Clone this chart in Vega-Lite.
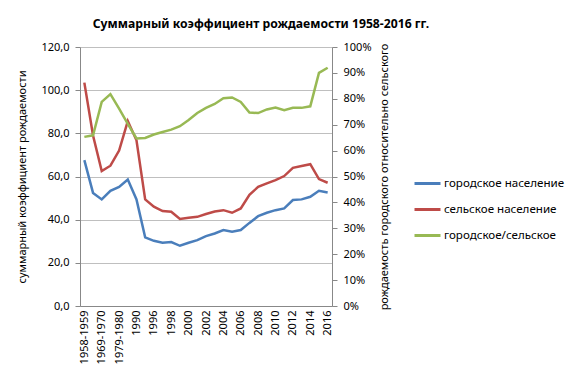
{
  "$schema": "https://vega.github.io/schema/vega-lite/v6.json",
  "width": 252,
  "height": 259,
  "autosize": "none",
  "padding": {"left": 80, "top": 47, "right": 248, "bottom": 76},
  "background": "white",
  "title": {
    "text": "Суммарный коэффициент рождаемости 1958-2016 гг.",
    "anchor": "middle",
    "frame": "group",
    "dx": 55,
    "offset": 11,
    "font": "Noto Sans",
    "fontSize": 12.2,
    "fontWeight": "bold",
    "color": "#000000"
  },
  "config": {
    "view": {"stroke": null},
    "font": "Noto Sans",
    "axis": {"labelFont": "Noto Sans", "titleFont": "Noto Sans", "labelColor": "#000000", "titleColor": "#000000", "domainColor": "#888888", "tickColor": "#888888"}
  },
  "data": {
    "values": [
      {"period": "1958-1959", "series": "городское население", "value": 67.6},
      {"period": "1964-1965", "series": "городское население", "value": 52.4},
      {"period": "1969-1970", "series": "городское население", "value": 49.4},
      {"period": "1974-1975", "series": "городское население", "value": 53.4},
      {"period": "1979-1980", "series": "городское население", "value": 55.2},
      {"period": "1986-1987", "series": "городское население", "value": 58.6},
      {"period": "1990", "series": "городское население", "value": 49.4},
      {"period": "1995", "series": "городское население", "value": 31.8},
      {"period": "1996", "series": "городское население", "value": 30.2},
      {"period": "1997", "series": "городское население", "value": 29.3},
      {"period": "1998", "series": "городское население", "value": 29.6},
      {"period": "1999", "series": "городское население", "value": 27.9},
      {"period": "2000", "series": "городское население", "value": 29.3},
      {"period": "2001", "series": "городское население", "value": 30.5},
      {"period": "2002", "series": "городское население", "value": 32.4},
      {"period": "2003", "series": "городское население", "value": 33.6},
      {"period": "2004", "series": "городское население", "value": 35.2},
      {"period": "2005", "series": "городское население", "value": 34.4},
      {"period": "2006", "series": "городское население", "value": 35.2},
      {"period": "2007", "series": "городское население", "value": 38.5},
      {"period": "2008", "series": "городское население", "value": 41.6},
      {"period": "2009", "series": "городское население", "value": 43.2},
      {"period": "2010", "series": "городское население", "value": 44.4},
      {"period": "2011", "series": "городское население", "value": 45.2},
      {"period": "2012", "series": "городское население", "value": 49.1},
      {"period": "2013", "series": "городское население", "value": 49.4},
      {"period": "2014", "series": "городское население", "value": 50.6},
      {"period": "2015", "series": "городское население", "value": 53.4},
      {"period": "2016", "series": "городское население", "value": 52.6},
      {"period": "1958-1959", "series": "сельское население", "value": 103.5},
      {"period": "1964-1965", "series": "сельское население", "value": 79.0},
      {"period": "1969-1970", "series": "сельское население", "value": 62.5},
      {"period": "1974-1975", "series": "сельское население", "value": 65.0},
      {"period": "1979-1980", "series": "сельское население", "value": 72.0},
      {"period": "1986-1987", "series": "сельское население", "value": 85.7},
      {"period": "1990", "series": "сельское население", "value": 76.8},
      {"period": "1995", "series": "сельское население", "value": 49.4},
      {"period": "1996", "series": "сельское население", "value": 46.0},
      {"period": "1997", "series": "сельское население", "value": 44.0},
      {"period": "1998", "series": "сельское население", "value": 43.7},
      {"period": "1999", "series": "сельское население", "value": 40.3},
      {"period": "2000", "series": "сельское население", "value": 40.9},
      {"period": "2001", "series": "сельское население", "value": 41.3},
      {"period": "2002", "series": "сельское население", "value": 42.6},
      {"period": "2003", "series": "сельское население", "value": 43.8},
      {"period": "2004", "series": "сельское население", "value": 44.4},
      {"period": "2005", "series": "сельское население", "value": 43.2},
      {"period": "2006", "series": "сельское население", "value": 45.2},
      {"period": "2007", "series": "сельское население", "value": 51.5},
      {"period": "2008", "series": "сельское население", "value": 55.2},
      {"period": "2009", "series": "сельское население", "value": 56.8},
      {"period": "2010", "series": "сельское население", "value": 58.3},
      {"period": "2011", "series": "сельское население", "value": 60.2},
      {"period": "2012", "series": "сельское население", "value": 64.0},
      {"period": "2013", "series": "сельское население", "value": 64.9},
      {"period": "2014", "series": "сельское население", "value": 65.7},
      {"period": "2015", "series": "сельское население", "value": 58.8},
      {"period": "2016", "series": "сельское население", "value": 57.1},
      {"period": "1958-1959", "series": "городское/сельское", "value": 0.653},
      {"period": "1964-1965", "series": "городское/сельское", "value": 0.659},
      {"period": "1969-1970", "series": "городское/сельское", "value": 0.788},
      {"period": "1974-1975", "series": "городское/сельское", "value": 0.818},
      {"period": "1979-1980", "series": "городское/сельское", "value": 0.762},
      {"period": "1986-1987", "series": "городское/сельское", "value": 0.703},
      {"period": "1990", "series": "городское/сельское", "value": 0.647},
      {"period": "1995", "series": "городское/сельское", "value": 0.649},
      {"period": "1996", "series": "городское/сельское", "value": 0.662},
      {"period": "1997", "series": "городское/сельское", "value": 0.672},
      {"period": "1998", "series": "городское/сельское", "value": 0.681},
      {"period": "1999", "series": "городское/сельское", "value": 0.694},
      {"period": "2000", "series": "городское/сельское", "value": 0.718},
      {"period": "2001", "series": "городское/сельское", "value": 0.745},
      {"period": "2002", "series": "городское/сельское", "value": 0.765},
      {"period": "2003", "series": "городское/сельское", "value": 0.780},
      {"period": "2004", "series": "городское/сельское", "value": 0.802},
      {"period": "2005", "series": "городское/сельское", "value": 0.805},
      {"period": "2006", "series": "городское/сельское", "value": 0.788},
      {"period": "2007", "series": "городское/сельское", "value": 0.747},
      {"period": "2008", "series": "городское/сельское", "value": 0.745},
      {"period": "2009", "series": "городское/сельское", "value": 0.759},
      {"period": "2010", "series": "городское/сельское", "value": 0.766},
      {"period": "2011", "series": "городское/сельское", "value": 0.756},
      {"period": "2012", "series": "городское/сельское", "value": 0.765},
      {"period": "2013", "series": "городское/сельское", "value": 0.765},
      {"period": "2014", "series": "городское/сельское", "value": 0.771},
      {"period": "2015", "series": "городское/сельское", "value": 0.900},
      {"period": "2016", "series": "городское/сельское", "value": 0.920}
    ]
  },
  "encoding": {
    "x": {
      "field": "period",
      "type": "ordinal",
      "sort": null,
      "scale": {"type": "point", "padding": 0.5},
      "axis": {
        "title": null,
        "values": ["1958-1959", "1969-1970", "1979-1980", "1990", "1996", "1998", "2000", "2002", "2004", "2006", "2008", "2010", "2012", "2014", "2016"],
        "labelAngle": -90,
        "labelFontSize": 11,
        "labelPadding": 4,
        "ticks": false,
        "grid": false,
        "labelOverlap": false
      }
    },
    "color": {
      "field": "series",
      "type": "nominal",
      "scale": {
        "domain": ["городское население", "сельское население", "городское/сельское"],
        "range": ["#4A7EBB", "#BE4B48", "#98B954"]
      },
      "legend": {
        "title": null,
        "orient": "none",
        "legendX": 333,
        "legendY": 122,
        "symbolType": "stroke",
        "symbolSize": 676,
        "symbolStrokeWidth": 3,
        "labelFont": "Noto Sans",
        "labelFontSize": 11.6,
        "labelOffset": 2,
        "labelColor": "#000000",
        "rowPadding": 5
      }
    }
  },
  "layer": [
    {
      "transform": [{"filter": "datum.series !== 'городское/сельское'"}],
      "mark": {"type": "line", "strokeWidth": 2.5},
      "encoding": {
        "y": {
          "field": "value",
          "type": "quantitative",
          "scale": {"domain": [0, 120], "nice": false},
          "axis": {
            "title": "суммарный коэффициент рождаемости",
            "titleFontSize": 11,
            "titleFontWeight": "normal",
            "titlePadding": 13,
            "values": [0, 20, 40, 60, 80, 100, 120],
            "labelExpr": "replace(format(datum.value, '.1f'), '.', ',')",
            "labelFontSize": 11,
            "tickSize": 5,
            "labelPadding": 6,
            "grid": true,
            "gridColor": "#BFBFBF"
          }
        }
      }
    },
    {
      "transform": [{"filter": "datum.series === 'городское/сельское'"}],
      "mark": {"type": "line", "strokeWidth": 2.5},
      "encoding": {
        "y": {
          "field": "value",
          "type": "quantitative",
          "scale": {"domain": [0, 1], "nice": false},
          "axis": {
            "orient": "right",
            "title": "рождаемость городского относительно сельского",
            "titleAngle": 270,
            "titleFontSize": 11,
            "titleFontWeight": "normal",
            "titlePadding": 18,
            "values": [0, 0.1, 0.2, 0.3, 0.4, 0.5, 0.6, 0.7, 0.8, 0.9, 1],
            "format": ".0%",
            "labelFontSize": 11,
            "tickSize": 5,
            "labelPadding": 6,
            "grid": false
          }
        }
      }
    }
  ],
  "resolve": {"scale": {"y": "independent"}}
}
